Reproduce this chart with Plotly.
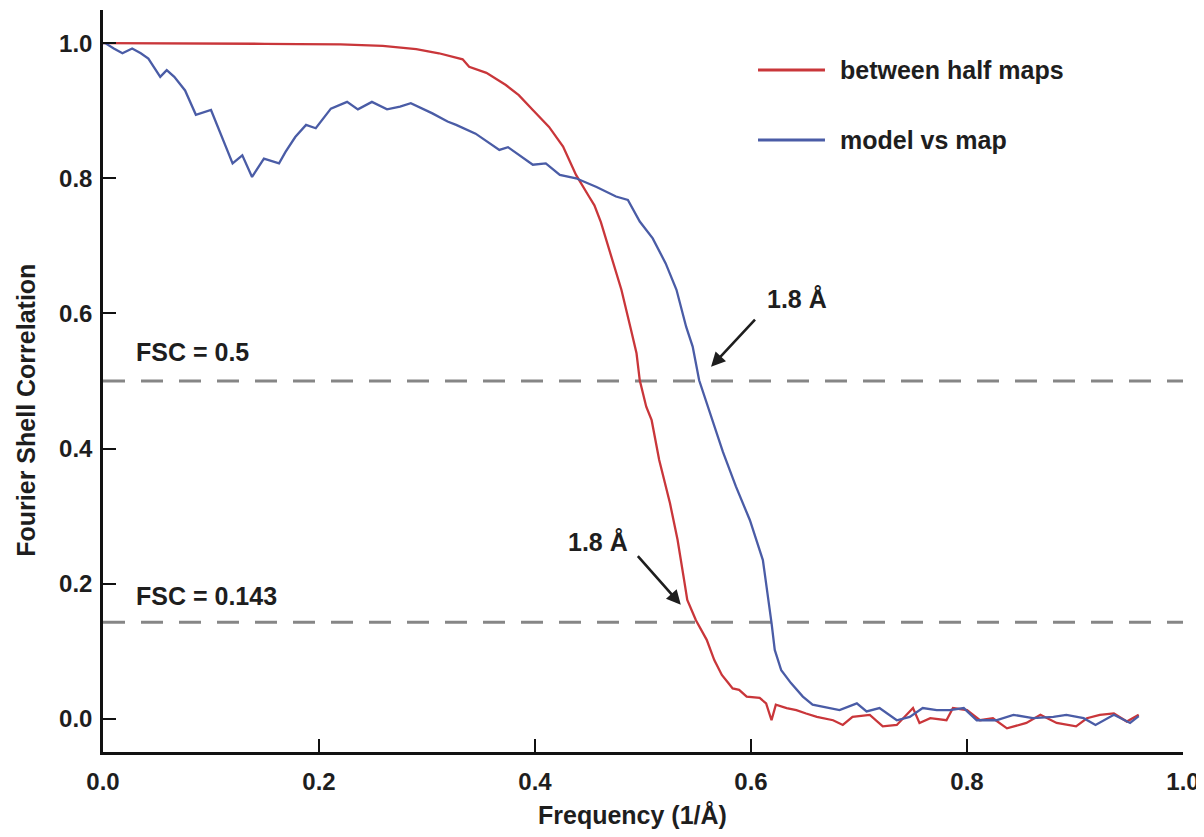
import plotly.graph_objects as go

# ---- data ----
half_x = [0.000, 0.050, 0.100, 0.150, 0.181, 0.220, 0.259, 0.290, 0.311, 0.333, 0.339,
          0.355, 0.373, 0.385, 0.398, 0.413, 0.426, 0.438, 0.450, 0.455, 0.461, 0.472,
          0.480, 0.489, 0.494, 0.497, 0.503, 0.508, 0.512, 0.515, 0.525, 0.532, 0.538,
          0.541, 0.549, 0.559, 0.566, 0.573, 0.579, 0.583, 0.589, 0.596, 0.608, 0.614,
          0.619, 0.623, 0.633, 0.642, 0.651, 0.661, 0.676, 0.685, 0.694, 0.710, 0.722,
          0.735, 0.750, 0.756, 0.766, 0.781, 0.787, 0.800, 0.812, 0.824, 0.837, 0.855,
          0.868, 0.883, 0.901, 0.911, 0.923, 0.936, 0.948, 0.959]
half_y = [1.000, 1.000, 0.9995, 0.999, 0.9985, 0.998, 0.996, 0.991, 0.985, 0.976, 0.965,
          0.956, 0.938, 0.923, 0.901, 0.876, 0.847, 0.805, 0.773, 0.760, 0.735, 0.679,
          0.635, 0.575, 0.541, 0.501, 0.462, 0.442, 0.408, 0.383, 0.319, 0.265, 0.206,
          0.176, 0.146, 0.117, 0.087, 0.065, 0.053, 0.045, 0.043, 0.033, 0.031, 0.023,
          -0.002, 0.021, 0.016, 0.013, 0.008, 0.003, -0.002, -0.009, 0.003, 0.006, -0.011,
          -0.009, 0.016, -0.006, 0.001, -0.002, 0.016, 0.013, -0.002, 0.001, -0.014, -0.006,
          0.006, -0.006, -0.011, 0.001, 0.006, 0.008, -0.004, 0.006]

model_x = [0.000, 0.002, 0.010, 0.018, 0.027, 0.035, 0.042, 0.053, 0.059, 0.066, 0.076,
           0.086, 0.100, 0.110, 0.120, 0.129, 0.138, 0.149, 0.163, 0.169, 0.178, 0.188,
           0.197, 0.211, 0.226, 0.236, 0.249, 0.263, 0.275, 0.285, 0.305, 0.319, 0.327,
           0.345, 0.367, 0.375, 0.398, 0.410, 0.423, 0.438, 0.457, 0.475, 0.486, 0.497,
           0.509, 0.521, 0.531, 0.540, 0.546, 0.552, 0.562, 0.574, 0.586, 0.599, 0.611,
           0.614, 0.617, 0.619, 0.622, 0.628, 0.637, 0.648, 0.657, 0.667, 0.682, 0.698,
           0.707, 0.719, 0.735, 0.747, 0.759, 0.772, 0.784, 0.797, 0.809, 0.827, 0.843,
           0.861, 0.880, 0.892, 0.908, 0.919, 0.936, 0.951, 0.959]
model_y = [1.000, 1.000, 0.992, 0.985, 0.992, 0.985, 0.977, 0.950, 0.960, 0.950, 0.930,
           0.894, 0.901, 0.862, 0.822, 0.834, 0.802, 0.829, 0.822, 0.839, 0.861, 0.879,
           0.874, 0.903, 0.913, 0.902, 0.913, 0.902, 0.906, 0.911, 0.896, 0.884, 0.879,
           0.866, 0.842, 0.846, 0.820, 0.822, 0.805, 0.800, 0.787, 0.773, 0.768, 0.736,
           0.711, 0.674, 0.635, 0.580, 0.551, 0.501, 0.452, 0.395, 0.344, 0.294, 0.235,
           0.201, 0.166, 0.142, 0.102, 0.072, 0.053, 0.033, 0.021, 0.018, 0.013, 0.023,
           0.011, 0.016, -0.002, 0.003, 0.016, 0.013, 0.013, 0.016, -0.002, -0.002, 0.006,
           0.001, 0.003, 0.006, 0.001, -0.009, 0.006, -0.006, 0.004]

thresholds = [0.5, 0.143]
threshold_labels = ["FSC = 0.5", "FSC = 0.143"]
series_names = ["between half maps", "model vs map"]
x_ticks = [0.0, 0.2, 0.4, 0.6, 0.8, 1.0]
y_ticks = [0.0, 0.2, 0.4, 0.6, 0.8, 1.0]

RED = "#c9363a"
BLUE = "#4a5ca6"
DASH = "#868686"
INK = "#1e1e1e"
FONT = "Liberation Sans, Arial, sans-serif"


def bold(size):
    return dict(size=size, color=INK, family=FONT, weight="bold")


fig = go.Figure()

for t in thresholds:
    fig.add_trace(go.Scatter(x=[0, 1.0], y=[t, t], mode="lines",
                             line=dict(color=DASH, width=3, dash="22px,16px"),
                             hoverinfo="skip", showlegend=False))

fig.add_trace(go.Scatter(x=half_x, y=half_y, mode="lines", name=series_names[0],
                         line=dict(color=RED, width=2.3), showlegend=False))
fig.add_trace(go.Scatter(x=model_x, y=model_y, mode="lines", name=series_names[1],
                         line=dict(color=BLUE, width=2.3), showlegend=False))

annotations = []
# threshold labels
for t, lab, yy in zip(thresholds, threshold_labels, [0.543, 0.182]):
    annotations.append(dict(x=0.0285, y=yy, xref="x", yref="y", text=lab, showarrow=False,
                            xanchor="left", yanchor="middle", font=bold(25)))

# resolution labels with arrows
annotations.append(dict(x=0.643, y=0.621, xref="x", yref="y", text="1.8 Å", showarrow=False,
                        xanchor="center", yanchor="middle", font=bold(25)))
annotations.append(dict(x=0.563, y=0.521, xref="x", yref="y", ax=0.605, ay=0.593,
                        axref="x", ayref="y", text="", showarrow=True, arrowhead=2,
                        arrowsize=1.1, arrowwidth=2.6, arrowcolor=INK))
annotations.append(dict(x=0.458, y=0.262, xref="x", yref="y", text="1.8 Å", showarrow=False,
                        xanchor="center", yanchor="middle", font=bold(25)))
annotations.append(dict(x=0.535, y=0.169, xref="x", yref="y", ax=0.494, ay=0.243,
                        axref="x", ayref="y", text="", showarrow=True, arrowhead=2,
                        arrowsize=1.1, arrowwidth=2.6, arrowcolor=INK))

# manual legend
shapes = []
for name, col, py in zip(series_names, [RED, BLUE], [0.919, 0.8248]):
    shapes.append(dict(type="line", xref="paper", yref="paper", x0=0.6065, x1=0.6685,
                       y0=py, y1=py, line=dict(color=col, width=3)))
    annotations.append(dict(x=0.6806, y=py, xref="paper", yref="paper", text=name,
                            showarrow=False, xanchor="left", yanchor="middle", font=bold(25)))

# axis titles
annotations.append(dict(x=0.4907, y=-0.0849, xref="paper", yref="paper",
                        text="Frequency (1/Å)", showarrow=False,
                        xanchor="center", yanchor="middle", font=bold(25)))
annotations.append(dict(x=-0.0715, y=0.461, xref="paper", yref="paper",
                        text="Fourier Shell Correlation", showarrow=False, textangle=-90,
                        xanchor="center", yanchor="middle", font=bold(25)))

axis_common = dict(showline=True, linewidth=2.5, linecolor="#111", ticks="inside",
                   ticklen=13, tickwidth=1.5, tickcolor="#111", showgrid=False,
                   zeroline=False, tickfont=bold(24))

# page body has an 8px default margin; figure sized so the plot area lands
# at x 103..1183, y 10..752 in the window
fig.update_layout(
    width=1196, height=829,
    margin=dict(l=95, r=21, t=2, b=85, autoexpand=False),
    paper_bgcolor="white", plot_bgcolor="white",
    font=dict(family=FONT, color=INK),
    xaxis=dict(range=[0, 1.0], tickvals=x_ticks, ticktext=[f"{v:.1f}" for v in x_ticks],
               ticklabelstandoff=6, **axis_common),
    yaxis=dict(range=[-0.049, 1.049], tickvals=y_ticks, ticktext=[f"{v:.1f}" for v in y_ticks],
               ticklabelstandoff=3, **axis_common),
    annotations=annotations,
    shapes=shapes,
    showlegend=False,
)

fig.write_html("out.html")
